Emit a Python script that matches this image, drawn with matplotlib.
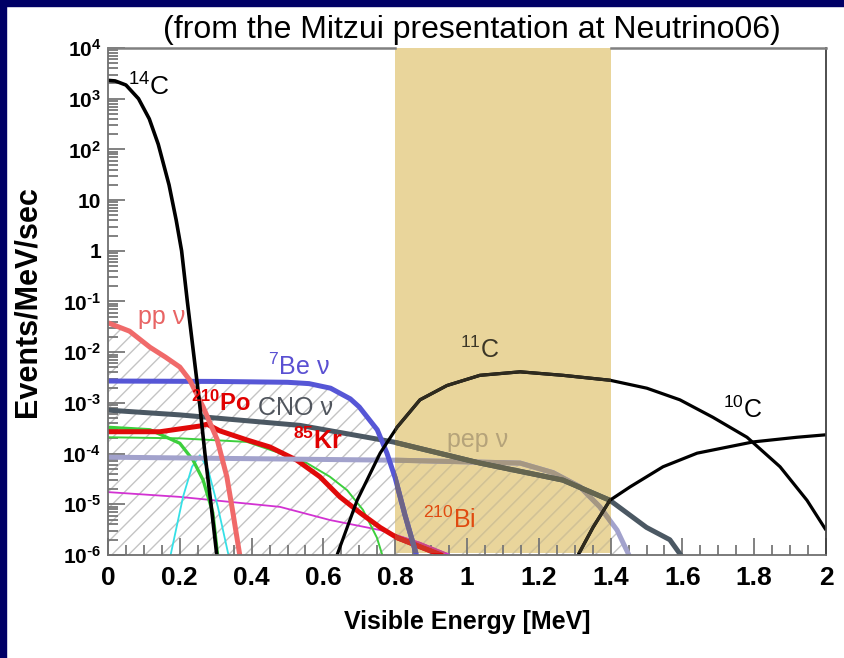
import numpy as np
import matplotlib
matplotlib.use("Agg")
import matplotlib.pyplot as plt
from matplotlib.colors import to_rgb
from matplotlib.patches import Rectangle
from matplotlib.ticker import FixedLocator, NullFormatter

plt.rcParams['mathtext.default'] = 'regular'

SANS = ['Liberation Sans', 'DejaVu Sans']

# spectra: visible energy [MeV] vs events/MeV/sec
c14_e = [0, 0.02, 0.05, 0.085, 0.115, 0.14, 0.17, 0.19, 0.205, 0.221, 0.238, 0.255, 0.27, 0.287, 0.303]
c14_y = [2.3e3, 2.24e3, 1.86e3, 1e3, 4e2, 1.26e2, 20, 4, 1, 0.1, 1e-2, 1e-3, 1e-4, 1e-5, 1e-6]

pp_e = [0, 0.06, 0.117, 0.16, 0.2, 0.228, 0.265, 0.304, 0.331, 0.348, 0.368]
pp_y = [3.8e-2, 2.6e-2, 1.25e-2, 8e-3, 5.1e-3, 2.8e-3, 8.3e-4, 1.9e-4, 3.5e-5, 6.8e-6, 9e-7]

be7_e = [0, 0.3, 0.5, 0.56, 0.62, 0.675, 0.70, 0.75, 0.777, 0.80, 0.827, 0.861]
be7_y = [2.7e-3, 2.65e-3, 2.55e-3, 2.4e-3, 1.95e-3, 1.2e-3, 8.3e-4, 2.95e-4, 1.02e-4, 3.3e-5, 6.2e-6, 9e-7]

cno_e = [0, 0.2, 0.535, 0.794, 1.036, 1.267, 1.398, 1.50, 1.565, 1.60]
cno_y = [7.2e-4, 5.8e-4, 3.6e-4, 1.7e-4, 6.5e-5, 3e-5, 1.2e-5, 3.5e-6, 2e-6, 9e-7]

pep_e = [0, 0.805, 1.148, 1.24, 1.315, 1.37, 1.418, 1.454]
pep_y = [8.5e-5, 7.4e-5, 6.5e-5, 4.2e-5, 2.2e-5, 8.9e-6, 3.1e-6, 9e-7]

po_e = [0, 0.145, 0.256, 0.276, 0.312, 0.387, 0.451, 0.526, 0.59, 0.646, 0.702, 0.758, 0.805, 0.944]
po_y = [2.7e-4, 2.7e-4, 3.5e-4, 3.8e-4, 2.8e-4, 1.86e-4, 1.35e-4, 7.4e-5, 3.5e-5, 1.4e-5, 6.8e-6, 3.5e-6, 2.2e-6, 9e-7]

green1_e = [0, 0.117, 0.2, 0.237, 0.265, 0.292, 0.306]
green1_y = [3.3e-4, 2.95e-4, 1.6e-4, 7.4e-5, 3e-5, 6.8e-6, 9e-7]

green2_e = [0, 0.2, 0.387, 0.479, 0.554, 0.618, 0.666, 0.71, 0.749, 0.766]
green2_y = [2.1e-4, 2e-4, 1.7e-4, 1.02e-4, 6.5e-5, 3.5e-5, 1.9e-5, 7.8e-6, 2.2e-6, 9e-7]

cyan_e = [0.173, 0.209, 0.234, 0.256, 0.279, 0.306, 0.337]
cyan_y = [9e-7, 1.4e-5, 5.5e-5, 9.3e-5, 4.8e-5, 8.9e-6, 9e-7]

mag_e = [0, 0.2, 0.479, 0.618, 0.758, 0.869, 0.953]
mag_y = [1.74e-5, 1.4e-5, 8.9e-6, 4.9e-6, 3.1e-6, 1.74e-6, 1e-6]

c11_e = [0.638, 0.694, 0.758, 0.805, 0.869, 0.944, 1.036, 1.148, 1.267, 1.398, 1.501, 1.593, 1.685, 1.78, 1.872, 1.947, 2.0]
c11_y = [1e-6, 1.2e-5, 1.02e-4, 3.3e-4, 1.15e-3, 2.2e-3, 3.5e-3, 4.1e-3, 3.5e-3, 2.8e-3, 1.95e-3, 1.15e-3, 5.2e-4, 2.1e-4, 5.5e-5, 1.2e-5, 3.1e-6]

c10_e = [1.306, 1.351, 1.398, 1.454, 1.546, 1.641, 1.797, 1.919, 2.0]
c10_y = [9e-7, 3.5e-6, 1.2e-5, 2.2e-5, 5.5e-5, 1.02e-4, 1.7e-4, 2.1e-4, 2.35e-4]

band_lo, band_hi = 0.8, 1.4
TAN = '#e9d59b'

xticks = [0, 0.2, 0.4, 0.6, 0.8, 1, 1.2, 1.4, 1.6, 1.8, 2]
xticklabels = ['0', '0.2', '0.4', '0.6', '0.8', '1', '1.2', '1.4', '1.6', '1.8', '2']
yticks = [1e-6, 1e-5, 1e-4, 1e-3, 1e-2, 1e-1, 1, 10, 1e2, 1e3, 1e4]
yticklabels = [r'$10^{\text{-}6}$', r'$10^{\text{-}5}$', r'$10^{\text{-}4}$', r'$10^{\text{-}3}$',
               r'$10^{\text{-}2}$', r'$10^{\text{-}1}$', '1', '10', '$10^{2}$', '$10^{3}$', '$10^{4}$']
yminor = [k * 10.0 ** n for n in range(-6, 4) for k in range(2, 10)]


def tint(c):
    # what a colour looks like under the highlighted band
    t = np.array(to_rgb(TAN))
    m = np.array(to_rgb(c)) * t
    return tuple(0.8 * m + 0.2 * t)


fig = plt.figure(figsize=(8.44, 6.58), dpi=100)
ax = fig.add_axes([108 / 844, 1 - 555 / 658, 718 / 844, 507 / 658])

ax.set_yscale('log')
ax.set_xlim(0, 2)
ax.set_ylim(1e-6, 1e4)

band = ax.axvspan(band_lo, band_hi, ymin=0.004, ymax=1.0, color=TAN, lw=0, zorder=0.5)

# hatched area under the neutrino spectra
xg = np.linspace(0, 1.46, 400)
top = np.max([np.interp(xg, pp_e, np.log10(pp_y), right=-7),
              np.interp(xg, be7_e, np.log10(be7_y), right=-7),
              np.interp(xg, pep_e, np.log10(pep_y), right=-7)], axis=0)
for col, z in (('#c4c4c4', 1.0), (tint('#e4e4e4'), 1.05)):
    h = ax.fill_between(xg, 1e-6, 10 ** top, facecolor='none', edgecolor=col,
                        hatch='//', lw=0, zorder=z)
    if z > 1.0:
        h.set_clip_path(band)

z = [2.0]


def curve(e, y, color, lw):
    z[0] += 0.01
    ax.plot(e, y, color=color, lw=lw, solid_capstyle='butt', zorder=z[0])
    z[0] += 0.01
    ln, = ax.plot(e, y, color=tint(color), lw=lw, solid_capstyle='butt', zorder=z[0])
    ln.set_clip_path(band)


curve(mag_e, mag_y, '#d232d2', 1.3)
curve(cyan_e, cyan_y, '#36e0e6', 1.3)
curve(green2_e, green2_y, '#3ccf3c', 1.4)
curve(green1_e, green1_y, '#3ccf3c', 2.4)
curve(po_e, po_y, '#e00a0a', 3.6)
curve(pep_e, pep_y, '#a2a2cc', 3.6)
curve(cno_e, cno_y, '#4b5863', 3.6)
curve(be7_e, be7_y, '#5656d6', 3.6)
curve(pp_e, pp_y, '#f06a6a', 3.6)
curve(c11_e, c11_y, 'black', 2.3)
curve(c10_e, c10_y, 'black', 2.3)
curve(c14_e, c14_y, 'black', 2.6)

# labels
lab = dict(fontfamily=SANS, va='center', ha='left', zorder=10)
ax.text(0.056, 1.7e3, '$^{14}$C', color='black', fontsize=19, **lab)
ax.text(0.084, 4.9e-2, 'pp ν', color='#e86464', fontsize=18, **lab)
ax.text(0.446, 5.1e-3, '$^{7}$Be ν', color='#5a50d2', fontsize=18, **lab)
ax.text(0.232, 1.0e-3, '$^{210}$Po', color='#e00000', fontsize=17, fontweight='bold', **lab)
ax.text(0.418, 7.9e-4, 'CNO ν', color='#50555d', fontsize=18, **lab)
ax.text(0.515, 1.78e-4, '$^{85}$Kr', color='#e00000', fontsize=18, fontweight='bold', **lab)
ax.text(0.98, 1.1e-2, '$^{11}$C', color=tint('#111111'), fontsize=18, **lab)
ax.text(0.944, 1.86e-4, 'pep ν', color=tint('#b8b4bc'), fontsize=18, **lab)
ax.text(1.713, 7.2e-4, '$^{10}$C', color='black', fontsize=18, **lab)
ax.text(0.877, 4.9e-6, '$^{210}$Bi', color='#e04a10', fontsize=18, **lab)

# frame: top edge is hidden behind the band
for s in ('left', 'bottom', 'right'):
    ax.spines[s].set_color('#707070')
    ax.spines[s].set_linewidth(1.3)
ax.spines['right'].set_color('#404040')
ax.spines['top'].set_visible(False)
for x0, x1 in ((0, band_lo), (band_hi, 2)):
    ax.plot([x0, x1], [1, 1], color='#808080', lw=1.8, transform=ax.get_xaxis_transform(),
            clip_on=False, zorder=3)

ax.xaxis.set_major_locator(FixedLocator(xticks))
ax.xaxis.set_minor_locator(FixedLocator(np.arange(0, 2.001, 0.05)))
ax.set_xticklabels(xticklabels)
ax.yaxis.set_major_locator(FixedLocator(yticks))
ax.yaxis.set_minor_locator(FixedLocator(yminor))
ax.yaxis.set_minor_formatter(NullFormatter())
ax.set_yticklabels(yticklabels)
ax.tick_params(which='both', direction='in', colors='#777777', labelcolor='black',
               top=False, right=False, left=True, bottom=True, width=1.3)
ax.tick_params(which='major', length=12)
ax.tick_params(which='minor', length=7)
ax.tick_params(axis='x', pad=8)
ax.tick_params(axis='y', pad=5)
for t in ax.get_xticklabels():
    t.set_fontfamily(SANS)
    t.set_fontweight('bold')
    t.set_fontsize(19)
for t in ax.get_yticklabels():
    t.set_fontfamily(SANS)
    t.set_fontweight('bold')
    t.set_fontsize(15)

ax.set_xlabel('Visible Energy [MeV]', fontfamily=SANS, fontweight='bold', fontsize=18, labelpad=14)
ax.set_ylabel('Events/MeV/sec', fontfamily=SANS, fontweight='bold', fontsize=22, labelpad=14)

fig.text(472 / 844, 1 - 30 / 658, '(from the Mitzui presentation at Neutrino06)',
         fontfamily=SANS, fontsize=23, ha='center', va='center')

# navy frame on the left and top edges
fig.patches.append(Rectangle((0, 0), 6 / 844, 1, transform=fig.transFigure, color='#000066'))
fig.patches.append(Rectangle((0, 1 - 6 / 658), 1, 6 / 658, transform=fig.transFigure, color='#000066'))

fig.savefig('out.png', dpi=100)
